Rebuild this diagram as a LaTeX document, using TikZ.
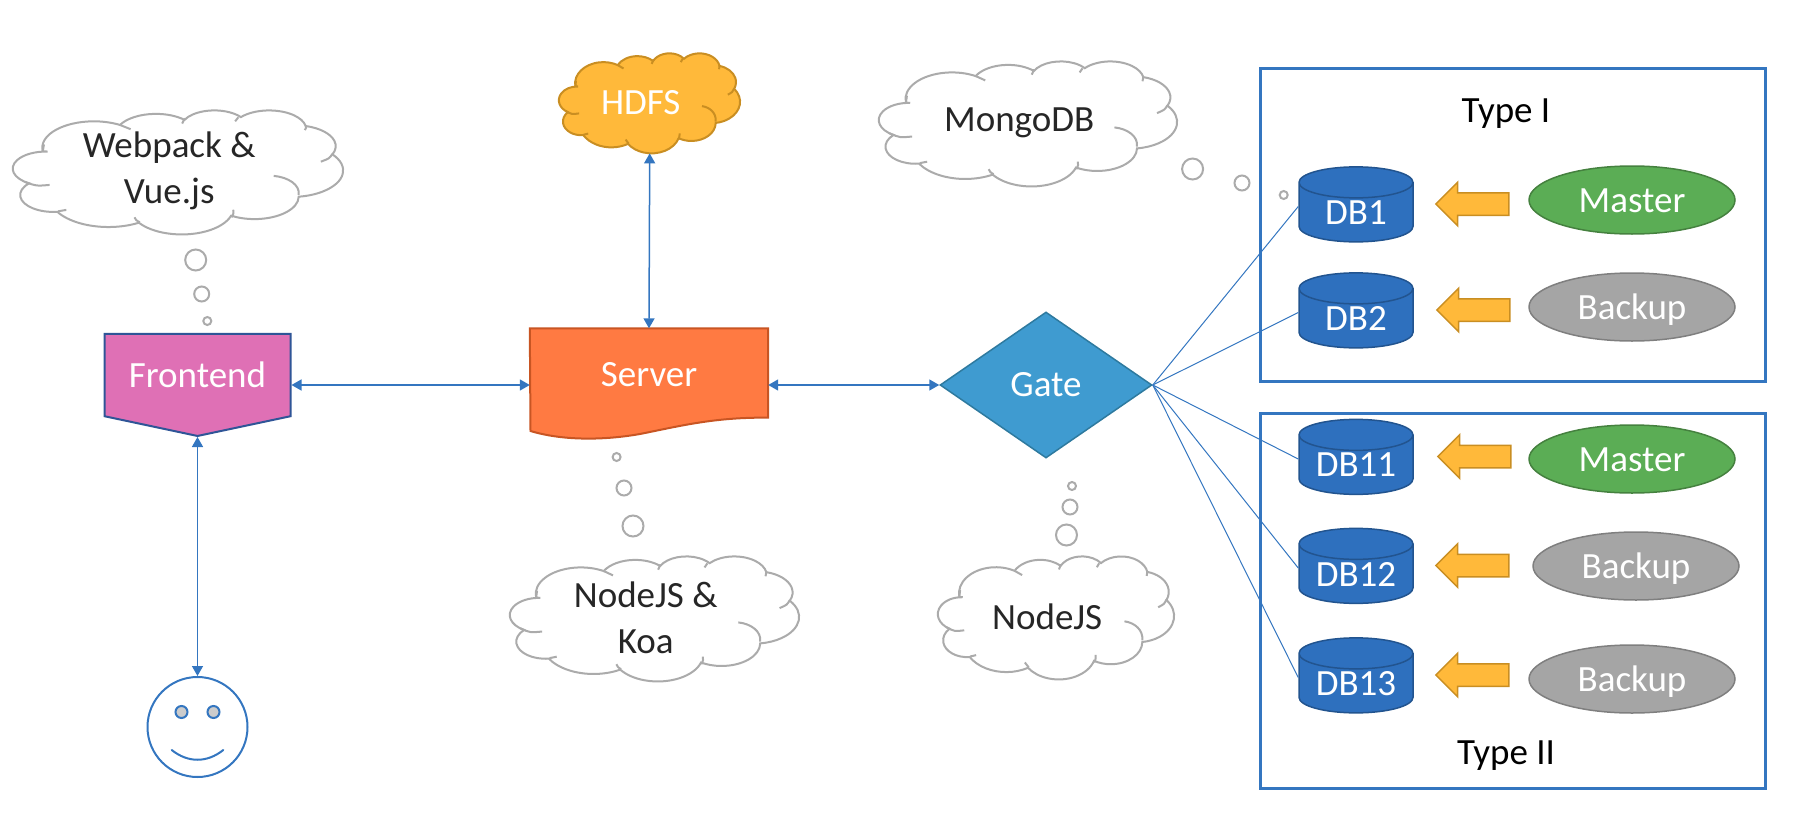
\documentclass[tikz,border=0pt]{standalone}
\usepackage{fontspec}
\setmainfont{Carlito}
\usetikzlibrary{positioning,shapes.geometric,shapes.arrows,shapes.symbols,arrows.meta}
\definecolor{linkblue}{HTML}{3476C0}
\definecolor{dbblue}{HTML}{2E70BE}
\definecolor{dbline}{HTML}{22548F}
\definecolor{cloudgrey}{HTML}{ABABAB}
\definecolor{masterfill}{HTML}{5BAD55}
\definecolor{masterline}{HTML}{45813F}
\definecolor{backupfill}{HTML}{A5A5A5}
\definecolor{backupline}{HTML}{7F7F7F}
\definecolor{hdfsfill}{HTML}{FFB93A}
\definecolor{hdfsline}{HTML}{C98E22}
\definecolor{frontfill}{HTML}{DF70B5}
\definecolor{frontline}{HTML}{2F5597}
\definecolor{serverfill}{HTML}{FF7A42}
\definecolor{serverline}{HTML}{C85523}
\definecolor{gatefill}{HTML}{3F9BD0}
\definecolor{gateline}{HTML}{2E7A9F}

\newcommand{\dbtext}[1]{\makebox[62pt]{#1}}
% one arc of the cloud outline, angles given as seen on the ellipse
\newcommand{\puffarc}[4]{arc[x radius=#1, y radius=#2, start angle={atan2(#1*sin(#3),#2*cos(#3))}, delta angle={Mod(atan2(#1*sin(#3+#4),#2*cos(#3+#4))-atan2(#1*sin(#3),#2*cos(#3)),360)}]}
% #1 name, #2 left, #3 top, #4 width, #5 height, #6 line colour, #7 fill colour, #8 text
\newcommand{\cloudnode}[8]{
    \begin{scope}[shift={(#2,#3)}, x=#4/43.2*1pt, y=-#5/43.2*1pt, line width=2pt]
        \draw[draw=#6, fill=#7] (3.9,14.37) \puffarc{6.753}{9.19}{-190.488}{123.78}
            \puffarc{5.333}{7.267}{-144.102}{89.945}
            \puffarc{4.365}{5.945}{-145.808}{99.723}
            \puffarc{4.857}{6.595}{-130.986}{117.242}
            \puffarc{5.333}{7.273}{-78.709}{109.027}
            \puffarc{6.775}{9.22}{-46.267}{130.269}
            \puffarc{5.785}{7.867}{0.625}{114.033}
            \puffarc{6.752}{9.215}{22.452}{115.173}
            \puffarc{7.72}{10.543}{66.243}{75.711}
            \puffarc{4.36}{5.918}{-274.942}{146.736}
            \puffarc{4.345}{5.945}{-246.829}{158.868} -- cycle;
        \draw[draw=#6] (1.53,25) .. controls (3,26.5) .. (4.8,26.1);
        \draw[draw=#6] (5.9,35.3) .. controls (6.4,35.3) .. (6.98,34.8);
        \draw[draw=#6] (15.9,37.4) .. controls (16.1,38.4) .. (16.6,39.1);
        \draw[draw=#6] (28.83,34.75) .. controls (28.9,36) .. (28.6,37.4);
        \draw[draw=#6] (34.13,22.95) .. controls (36,23.4) and (37.6,26) .. (37.4,29.6);
        \draw[draw=#6] (41.8,15.35) .. controls (41.4,16.9) .. (40.3,18);
        \draw[draw=#6] (38.32,5.43) .. controls (38.4,6.2) .. (38.2,7);
        \draw[draw=#6] (29.08,3.95) .. controls (29.2,3.2) .. (29.5,2.55);
        \draw[draw=#6] (22.14,4.72) .. controls (22.2,3.8) .. (22.5,2.9);
        \draw[draw=#6] (14,5.19) .. controls (14.8,5.8) .. (15.4,6.7);
        \draw[draw=#6] (3.9,14.37) .. controls (3.85,13.2) .. (4.05,12);
    \end{scope}
    \node (#1) [inner sep=0pt, minimum width=#4pt, minimum height=#5pt, anchor=north west] at (#2,#3) {};
    \node (#1text) [cloudtext] at (#1) {#8};
}

\begin{document}
\begin{tikzpicture}[
    x=1pt, y=-1pt,
    font=\fontsize{37}{46}\selectfont,
    cloudtext/.style={inner sep=0pt, align=center, text=black!85, xshift=-9pt, yshift=1pt},
    thought/.style={circle, draw=cloudgrey, line width=2pt, inner sep=0pt},
    link/.style={{Triangle[length=10pt,width=11pt]}-{Triangle[length=10pt,width=11pt]}, draw=linkblue, fill=linkblue, line width=1.5pt},
    branch/.style={draw=linkblue, line width=1pt},
    dbnode/.style={cylinder, shape border rotate=90, aspect=0.5, draw=dbline, line width=1.5pt, cylinder uses custom fill, cylinder body fill=dbblue, cylinder end fill=dbblue, minimum width=114pt, minimum height=75pt, inner sep=0pt, text=white},
    rolemaster/.style={ellipse, fill=masterfill, draw=masterline, minimum width=206pt, minimum height=68pt, text=white, text height=25pt, text depth=0pt, line width=1.5pt, inner sep=0pt},
    rolebackup/.style={ellipse, fill=backupfill, draw=backupline, minimum width=206pt, minimum height=68pt, text=white, text height=25pt, text depth=0pt, line width=1.5pt, inner sep=0pt},
    feeds/.style={single arrow, shape border rotate=180, fill=hdfsfill, draw=hdfsline, line width=1.5pt, text height=21pt, text depth=0pt, minimum height=73pt, single arrow head extend=10.5pt, single arrow tip angle=90, inner sep=0pt, yshift=8.5pt},
    typebox/.style={rectangle, draw=linkblue, line width=2.5pt, minimum width=505pt, anchor=north west},
    eye/.style={circle, draw=linkblue, fill=black!20, line width=2pt, minimum size=12pt, inner sep=0pt}
]
    \useasboundingbox (0,0) rectangle (1805,822);

    \node (typeone) [typebox, minimum height=313pt] at (1259,67) {};
    \node (typetwo) [typebox, minimum height=375pt] at (1259,412) {};

    \cloudnode{webpack}{13}{110}{330}{124}{cloudgrey}{white}{Webpack \&\\Vue.js}
    \cloudnode{mongo}{879}{61}{298}{125}{cloudgrey}{white}{MongoDB}
    \cloudnode{koa}{510}{556}{289}{125}{cloudgrey}{white}{NodeJS \&\\Koa}
    \cloudnode{nodejs}{938}{556}{236}{123}{cloudgrey}{white}{NodeJS}
    \cloudnode{hdfs}{559}{53}{181}{100}{hdfsline}{hdfsfill}{\textcolor{white}{HDFS}}

    \node (frontend) [signal, signal to=south, signal pointer angle=156, draw=frontline, fill=frontfill, line width=2pt, minimum width=186pt, minimum height=97pt, inner sep=0pt, text=white] at (197.5,375) {Frontend};
    \node (server) [minimum width=238pt, minimum height=89pt] at (649,373) {};
    \node (gate) [diamond, aspect=1.45, fill=gatefill, draw=gateline, line width=1.5pt, minimum width=212pt, minimum height=146pt, inner sep=0pt, text=white] at (1046,385) {Gate};
    \node (user) [circle, draw=linkblue, line width=2pt, minimum size=100pt, inner sep=0pt] at (197.5,727) {};

    \draw[line width=2pt, draw=serverline, fill=serverfill] (server.north west) -- (server.north east) -- (server.south east) .. controls (715,417) and (680,426) .. (640,434) .. controls (600,441) and (560,440) .. (530.5,431) -- cycle;
    \node (servertext) [text=white] at (649,375) {Server};

    \node (db1) [dbnode] at (1356,212.5) {\dbtext{DB1}};
    \node (db2) [dbnode, below=29.5pt of db1] {\dbtext{DB2}};
    \node (db11) [dbnode] at (1356,465) {\dbtext{DB11}};
    \node (db12) [dbnode, below=32.5pt of db11] {\dbtext{DB12}};
    \node (db13) [dbnode, below=33pt of db12] {\dbtext{DB13}};

    \node (arrow1) [feeds, right=21pt of db1] {};
    \node (arrow2) [feeds, right=22pt of db2] {};
    \node (arrow11) [feeds, right=23pt of db11] {};
    \node (arrow12) [feeds, right=21pt of db12] {};
    \node (arrow13) [feeds, right=21pt of db13] {};

    \node (master1) [rolemaster] at (1632,200) {Master};
    \node (backup1) [rolebackup] at (1632,307) {Backup};
    \node (master2) [rolemaster] at (1632,459) {Master};
    \node (backup2) [rolebackup] at (1636,566) {Backup};
    \node (backup3) [rolebackup] at (1632,679) {Backup};

    \node (typeI) at (1506,114) {Type I};
    \node (typeII) at (1506,756) {Type II};

    \node (dotA1) [thought, minimum size=21pt] at (195.7,260) {};
    \node (dotA2) [thought, minimum size=15pt] at (201.7,294) {};
    \node (dotA3) [thought, minimum size=8pt] at (207.3,321) {};
    \node (dotB1) [thought, minimum size=8pt] at (616.6,457) {};
    \node (dotB2) [thought, minimum size=15pt] at (624,488) {};
    \node (dotB3) [thought, minimum size=21pt] at (633,526) {};
    \node (dotC1) [thought, minimum size=8pt] at (1072,486) {};
    \node (dotC2) [thought, minimum size=15pt] at (1070,507) {};
    \node (dotC3) [thought, minimum size=21pt] at (1066.5,535) {};
    \node (dotD1) [thought, minimum size=21pt] at (1192.6,169) {};
    \node (dotD2) [thought, minimum size=15pt] at (1242,183) {};
    \node (dotD3) [thought, minimum size=8pt] at (1283.7,195) {};

    \draw [link] (frontend.east |- gate) -- (server.west |- gate);
    \draw [link] (server.east |- gate) -- (gate.west);
    \draw [link] (hdfs.south) -- (server.north);
    \draw [link] (frontend.south) -- (user.north);
    \draw [branch] (gate.east) -- ([yshift=6pt]db1.west);
    \draw [branch] (gate.east) -- ([yshift=6pt]db2.west);
    \draw [branch] (gate.east) -- ([yshift=6pt]db11.west);
    \draw [branch] (gate.east) -- ([yshift=6pt]db12.west);
    \draw [branch] (gate.east) -- ([yshift=6pt]db13.west);

    \node (eyeL) [eye, xshift=-16pt, yshift=15pt] at (user) {};
    \node (eyeR) [eye, xshift=16pt, yshift=15pt] at (user) {};
    \draw[draw=linkblue, line width=2pt, line cap=round] (171.7,750) .. controls (188,763) and (207,763) .. (223.3,750);
\end{tikzpicture}
\end{document}
